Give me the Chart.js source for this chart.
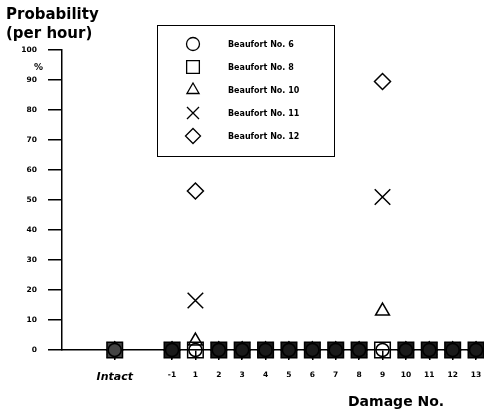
<!DOCTYPE html>
<html>
<head>
<meta charset="utf-8">
<script src="https://cdn.jsdelivr.net/npm/chart.js@4/dist/chart.umd.min.js"></script>
<style>
  html, body { margin: 0; padding: 0; background: #fff; }
  #wrap { width: 484px; height: 410px; }
</style>
</head>
<body>
<div id="wrap"><canvas id="chart" width="484" height="410"></canvas></div>
<script>
// Categories along the damage axis
const categories = ["Intact", "-1", "1", "2", "3", "4", "5", "6", "7", "8", "9", "10", "11", "12", "13"];

// Probability (% per hour) for each Beaufort number
const beaufort6  = [0, 0, 0, 0, 0, 0, 0, 0, 0, 0, 0, 0, 0, 0, 0];
const beaufort8  = [0, 0, 0, 0, 0, 0, 0, 0, 0, 0, 0, 0, 0, 0, 0];
const beaufort10 = [0, 0, 3, 0, 0, 0, 0, 0, 0, 0, 13, 0, 0, 0, 0];
const beaufort11 = [0, 0, 16.5, 0, 0, 0, 0, 0, 0, 0, 51, 0, 0, 0, 0];
const beaufort12 = [0, 0, 53, 0, 0, 0, 0, 0, 0, 0, 89.5, 0, 0, 0, 0];

const seriesNames = ["Beaufort No. 6", "Beaufort No. 8", "Beaufort No. 10", "Beaufort No. 11", "Beaufort No. 12"];
const yTicks = [0, 10, 20, 30, 40, 50, 60, 70, 80, 90, 100];

const FONT = "'DejaVu Sans', Verdana, sans-serif";
const allSeries = [beaufort6, beaufort8, beaufort10, beaufort11, beaufort12];

// "Intact" sits a bit apart from the numbered damage cases
function catPos(i) {
  return i === 0 ? -2.45 : i - 1;
}

function toPoints(values) {
  return values.map((v, i) => ({ x: catPos(i), y: v }));
}

// where every series sits at zero the markers pile up into a dark blob
function stackedAtZero(i) {
  return allSeries.every(s => s[i] === 0);
}

const styles = [
  { pointStyle: "circle",   radius: 6.5, legendRadius: 6.5 },
  { pointStyle: "rect",     radius: 11,  legendRadius: 9 },
  { pointStyle: "triangle", radius: 8,   legendRadius: 7 },
  { pointStyle: "crossRot", radius: 11,  legendRadius: 8.5 },
  { pointStyle: "rectRot",  radius: 8,   legendRadius: 7.5 },
];

const datasets = allSeries.map((values, k) => ({
  label: seriesNames[k],
  data: toPoints(values),
  pointStyle: styles[k].pointStyle,
  pointRadius: styles[k].radius,
  pointBorderWidth: 1.5,
  pointBorderColor: "#000",
  pointBackgroundColor: k === 1
    ? (ctx => stackedAtZero(ctx.dataIndex) ? (ctx.dataIndex === 0 ? "#444" : "#1a1a1a") : "rgba(0,0,0,0)")
    : "rgba(0,0,0,0)",
  showLine: false,
  clip: false,
}));

// legend box, axis captions
const extras = {
  id: "extras",
  afterDraw(chart) {
    const ctx = chart.ctx;
    ctx.save();
    ctx.fillStyle = "#000";
    ctx.textBaseline = "alphabetic";
    ctx.textAlign = "left";
    ctx.font = "bold 15px " + FONT;
    ctx.fillText("Probability", 6, 19);
    ctx.fillText("(per hour)", 6, 38);
    ctx.font = "bold 9px " + FONT;
    ctx.fillText("%", 34, 70);
    ctx.font = "bold 14px " + FONT;
    ctx.fillText("Damage No.", 348, 406);

    // legend
    ctx.strokeStyle = "#000";
    ctx.lineWidth = 1;
    ctx.strokeRect(157.5, 25.5, 177, 131);
    const rows = [44, 67, 90, 113, 136];
    ctx.textBaseline = "middle";
    seriesNames.forEach((name, k) => {
      ctx.lineWidth = 1.3;
      ctx.strokeStyle = "#000";
      ctx.fillStyle = "rgba(0,0,0,0)";
      Chart.helpers.drawPoint(ctx, {
        pointStyle: styles[k].pointStyle,
        radius: styles[k].legendRadius,
        borderWidth: 1.3,
      }, 193, rows[k]);
      ctx.fillStyle = "#000";
      ctx.font = "bold 8px " + FONT;
      ctx.fillText(name, 228, rows[k] + 0.5);
    });
    ctx.restore();
  },
};

new Chart(document.getElementById("chart"), {
  type: "scatter",
  data: { datasets },
  options: {
    responsive: false,
    animation: false,
    devicePixelRatio: 1,
    layout: { autoPadding: false, padding: { top: 50, right: 0, bottom: 0, left: 0 } },
    plugins: {
      legend: { display: false },
      tooltip: { enabled: false },
    },
    scales: {
      x: {
        type: "linear",
        min: -4.705,
        max: 13.34,
        afterFit: scale => {
          scale.height = 60;
          scale.paddingLeft = 0;
          scale.paddingRight = 0;
        },
        afterBuildTicks: scale => {
          scale.ticks = categories.map((c, i) => ({ value: catPos(i) }));
        },
        ticks: {
          autoSkip: false,
          maxRotation: 0,
          padding: 11,
          color: "#000",
          callback: (value, index) => categories[index],
          font: ctx => ctx.index === 0
            ? { family: FONT, size: 11, weight: "bold", style: "italic" }
            : { family: FONT, size: 7.5, weight: "bold" },
        },
        grid: {
          drawOnChartArea: false,
          drawTicks: true,
          tickLength: 10,
          color: "#000",
          lineWidth: 1.5,
        },
        border: { display: true, color: "#000", width: 1.5 },
      },
      y: {
        min: 0,
        max: 100,
        afterFit: scale => { scale.width = 62; },
        afterBuildTicks: scale => {
          scale.ticks = yTicks.map(v => ({ value: v }));
        },
        ticks: {
          padding: 11,
          color: "#000",
          font: { family: FONT, size: 7.5, weight: "bold" },
        },
        grid: {
          drawOnChartArea: false,
          drawTicks: true,
          tickLength: 14,
          color: "#000",
          lineWidth: 1.5,
        },
        border: { display: true, color: "#000", width: 1.5 },
      },
    },
  },
  plugins: [extras],
});
</script>
</body>
</html>
